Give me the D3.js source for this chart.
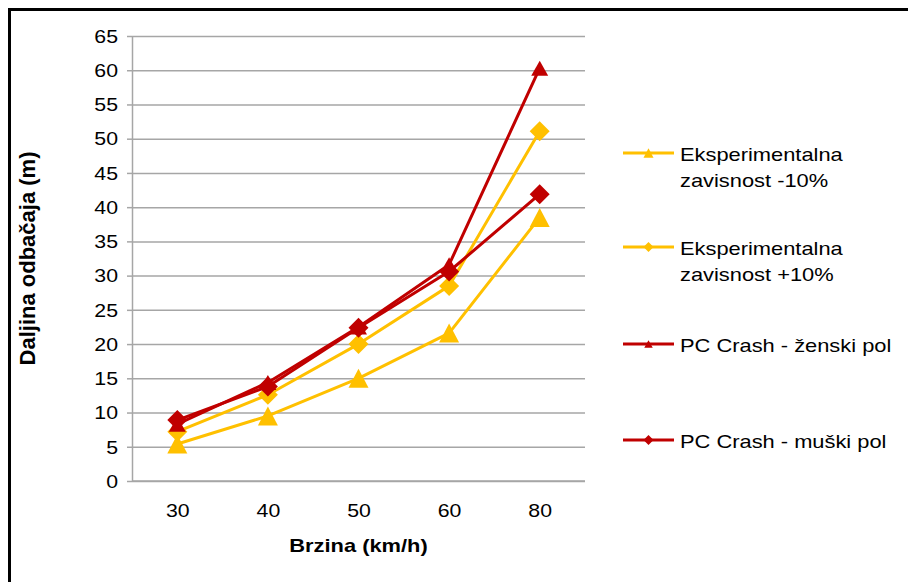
<!DOCTYPE html>
<html>
<head>
<meta charset="utf-8">
<title>Daljina odbačaja</title>
<script src="https://cdn.jsdelivr.net/npm/d3@7"></script>
<style>
body { margin: 0; background: #fff; }
text { font-family: "Liberation Sans", Arial, sans-serif; fill: #000; }
</style>
</head>
<body>
<div id="chart"></div>
<script>

// values
var categories = ["30", "40", "50", "60", "80"];
var minus10 = [5.4, 9.5, 15, 21.6, 38.5];
var plus10  = [7.2, 12.6, 20, 28.5, 51.1];
var zenski  = [8.3, 14.4, 22.5, 31.6, 60.3];
var muski   = [8.9, 13.8, 22.4, 30.6, 41.9];
var yTicks  = [0, 5, 10, 15, 20, 25, 30, 35, 40, 45, 50, 55, 60, 65];
var seriesNames = [
  ["Eksperimentalna", "zavisnost -10%"],
  ["Eksperimentalna", "zavisnost +10%"],
  ["PC Crash - ženski pol"],
  ["PC Crash - muški pol"]
];

var gold = "#FFC000", red = "#C00000", grid = "#A6A6A6";

var series = [
  { name: seriesNames[0], values: minus10, color: gold, marker: "triG" },
  { name: seriesNames[1], values: plus10,  color: gold, marker: "dia" },
  { name: seriesNames[2], values: zenski,  color: red,  marker: "triR" },
  { name: seriesNames[3], values: muski,   color: red,  marker: "dia" }
];

var W = 908, H = 582;
var pLeft = 132, pRight = 585, pTop = 36, pBottom = 481;

var svg = d3.select("#chart").append("svg")
  .attr("width", W).attr("height", H);

svg.append("rect").attr("width", W).attr("height", H).attr("fill", "#fff");

// outer frame (only top and left visible)
svg.append("rect")
  .attr("x", 9.5).attr("y", 9.5)
  .attr("width", 1200).attr("height", 1200)
  .attr("fill", "none").attr("stroke", "#000").attr("stroke-width", 3);

var x = d3.scalePoint().domain(categories).range([pLeft, pRight]).padding(0.5);
var y = d3.scaleLinear().domain([0, 65]).range([pBottom, pTop]);

// grid
svg.append("g")
  .attr("transform", "translate(" + pLeft + ",0)")
  .call(d3.axisLeft(y).tickValues(yTicks).tickSize(-(pRight - pLeft)).tickFormat(""))
  .call(function(g) {
    g.select(".domain").remove();
    g.selectAll("line").attr("stroke", grid).attr("stroke-width", 1.5);
  });

// y axis
var yAxis = svg.append("g")
  .attr("transform", "translate(" + pLeft + ",0)")
  .call(d3.axisLeft(y).tickValues(yTicks).tickSize(5).tickSizeOuter(0).tickPadding(9));
yAxis.select(".domain").attr("stroke", grid).attr("stroke-width", 1.5);
yAxis.selectAll("line").attr("stroke", grid).attr("stroke-width", 1.5);
yAxis.selectAll("text").style("font-size", "18.5px").attr("dy", "0.34em");

// x axis
var xAxis = svg.append("g")
  .attr("transform", "translate(0," + pBottom + ")")
  .call(d3.axisBottom(x).tickSize(0).tickSizeOuter(0).tickPadding(23));
xAxis.select(".domain").attr("stroke", grid).attr("stroke-width", 1.5)
  .attr("d", "M" + pLeft + ",0H" + pRight);
xAxis.selectAll("text").style("font-size", "18.5px");

// axis titles
svg.append("text")
  .attr("class", "stretch")
  .attr("x", (pLeft + pRight) / 2).attr("y", 552)
  .attr("text-anchor", "middle")
  .style("font-size", "19px").style("font-weight", "bold")
  .text("Brzina (km/h)");

svg.append("text")
  .attr("transform", "translate(35," + ((pTop + pBottom) / 2) + ") rotate(-90)")
  .attr("text-anchor", "middle")
  .style("font-size", "22px").style("font-weight", "bold")
  .text("Daljina odbačaja (m)");

function markerPath(type, k) {
  if (type === "dia") { var s = 10 * k; return "M0," + (-s) + "L" + s + ",0L0," + s + "L" + (-s) + ",0Z"; }
  var w = (type === "triG" ? 20 : 17) * k, h = (type === "triG" ? 19 : 15) * k;
  return "M0," + (-h / 2) + "L" + (w / 2) + "," + (h / 2) + "L" + (-w / 2) + "," + (h / 2) + "Z";
}

var line = d3.line()
  .x(function(d, i) { return x(categories[i]); })
  .y(function(d) { return y(d); });

series.forEach(function(s) {
  var g = svg.append("g");
  g.append("path")
    .attr("d", line(s.values))
    .attr("fill", "none").attr("stroke", s.color)
    .attr("stroke-width", 3).attr("stroke-linejoin", "round");
  g.selectAll("path.m")
    .data(s.values)
    .enter().append("path")
    .attr("class", "m")
    .attr("transform", function(d, i) { return "translate(" + x(categories[i]) + "," + y(d) + ")"; })
    .attr("d", markerPath(s.marker, 1))
    .attr("fill", s.color);
});

// legend
var legendY = [153, 247, 344, 440];
var legend = svg.append("g");
series.forEach(function(s, i) {
  var g = legend.append("g").attr("transform", "translate(0," + legendY[i] + ")");
  g.append("line").attr("x1", 623).attr("x2", 674)
    .attr("stroke", s.color).attr("stroke-width", 3);
  g.append("path").attr("transform", "translate(648.5,0)")
    .attr("d", markerPath(s.marker, 0.5)).attr("fill", s.color);
  s.name.forEach(function(t, j) {
    g.append("text").attr("class", "stretch")
      .attr("x", 680).attr("y", 7.5 + j * 26)
      .style("font-size", "19px")
      .text(t);
  });
});

// the picture is a bit wider than the fonts, so stretch the texts
function stretch(sel, k) {
  sel.each(function() {
    var L = this.getComputedTextLength();
    this.setAttribute("textLength", L * k);
    this.setAttribute("lengthAdjust", "spacingAndGlyphs");
  });
}
stretch(svg.selectAll(".stretch"), 1.15);
stretch(yAxis.selectAll("text"), 1.15);
stretch(xAxis.selectAll("text"), 1.15);

</script>
</body>
</html>
